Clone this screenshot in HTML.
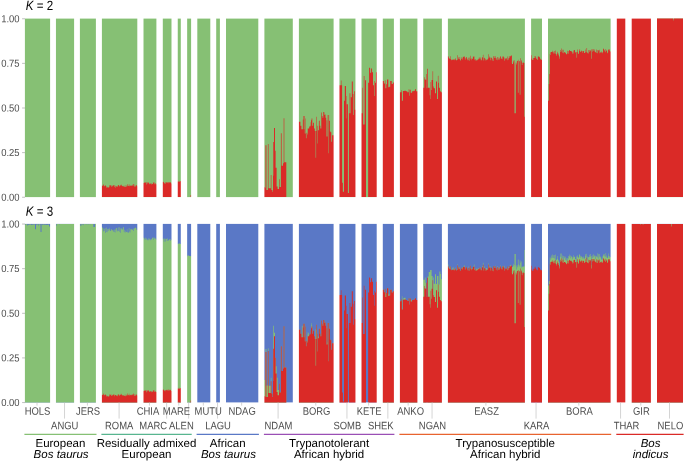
<!DOCTYPE html>
<html lang="en"><head><meta charset="utf-8"><title>Admixture K=2, K=3</title>
<style>
html,body{margin:0;padding:0;background:#fff;}
body{width:685px;height:462px;overflow:hidden;font-family:"Liberation Sans",sans-serif;}
svg{display:block;}
svg text{text-rendering:geometricPrecision;}
</style></head><body>
<svg width="685" height="462" viewBox="0 0 685 462" font-family="'Liberation Sans', sans-serif">
<rect width="685" height="462" fill="#fff"/>
<text transform="translate(25.70 9.95) scale(0.868 1) rotate(0.03)" font-size="13.35" fill="#000"><tspan font-style="italic">K</tspan> = 2</text>
<text transform="translate(25.70 215.85) scale(0.868 1) rotate(0.03)" font-size="13.35" fill="#000"><tspan font-style="italic">K</tspan> = 3</text>
<g>
<rect x="23.40" y="18.60" width="28.20" height="178.50" fill="#86c074"/>
</g>
<g>
<rect x="23.40" y="223.90" width="28.20" height="178.50" fill="#5a78c6"/>
<path d="M23.40 402.40V224.35 H25.40V224.76 H25.91V223.94 H26.41V223.98 H26.92V224.47 H27.42V225.69 H27.92V224.74 H28.43V224.73 H28.93V224.66 H29.44V224.23 H29.94V224.74 H30.44V223.93 H30.95V224.90 H31.45V224.76 H31.96V224.88 H32.46V224.15 H32.96V224.58 H33.47V224.47 H33.97V224.62 H34.48V224.29 H34.98V229.25 H35.48V229.25 H35.99V224.51 H36.49V224.65 H37.00V224.85 H37.50V224.09 H38.00V225.69 H38.51V224.26 H39.01V224.03 H39.52V224.55 H40.02V224.56 H40.52V231.93 H41.03V231.93 H41.53V224.25 H42.04V224.96 H42.54V224.47 H43.04V224.40 H43.55V224.60 H44.05V224.95 H44.56V224.22 H45.06V224.96 H45.56V224.37 H46.07V224.81 H46.57V224.93 H47.08V224.78 H47.58V224.90 H48.08V224.81 H48.59V224.24 H49.09V226.58 H49.60V226.58 H51.60V402.40 Z" fill="#86c074"/>
</g>
<g>
<rect x="54.45" y="18.60" width="21.15" height="178.50" fill="#86c074"/>
</g>
<g>
<rect x="54.45" y="223.90" width="21.15" height="178.50" fill="#5a78c6"/>
<path d="M54.45 402.40V223.90 H56.45V225.69 H56.96V223.90 H57.46V223.90 H57.97V223.90 H58.47V223.90 H58.97V224.61 H59.48V223.90 H59.98V223.90 H60.49V223.90 H60.99V223.90 H61.50V223.90 H62.00V223.90 H62.50V223.90 H63.01V223.90 H63.51V223.90 H64.02V223.90 H64.52V223.90 H65.02V223.90 H65.53V223.90 H66.03V223.90 H66.54V223.90 H67.04V223.90 H67.55V223.90 H68.05V223.90 H68.55V223.90 H69.06V223.90 H69.56V223.90 H70.07V223.90 H70.57V223.90 H71.07V223.90 H71.58V223.90 H72.08V223.90 H72.59V223.90 H73.09V223.90 H73.60V223.90 H75.60V402.40 Z" fill="#86c074"/>
</g>
<g>
<rect x="78.40" y="18.60" width="19.00" height="178.50" fill="#86c074"/>
</g>
<g>
<rect x="78.40" y="223.90" width="19.00" height="178.50" fill="#5a78c6"/>
<path d="M78.40 402.40V223.91 H80.40V225.69 H80.90V225.69 H81.40V223.99 H81.90V224.18 H82.40V224.23 H82.90V225.15 H83.40V224.21 H83.90V224.12 H84.40V223.94 H84.90V223.95 H85.40V224.21 H85.90V224.23 H86.40V224.18 H86.90V223.96 H87.40V224.25 H87.90V224.18 H88.40V224.22 H88.90V224.21 H89.40V224.07 H89.90V224.19 H90.40V224.11 H90.90V224.00 H91.40V224.00 H91.90V224.11 H92.40V223.98 H92.90V224.05 H93.40V226.93 H93.90V226.93 H94.40V226.93 H94.90V224.05 H95.40V223.92 H97.40V402.40 Z" fill="#86c074"/>
</g>
<g>
<rect x="100.40" y="18.60" width="38.40" height="178.50" fill="#86c074"/>
<path d="M100.40 197.10V185.51 H102.40V185.97 H102.90V185.36 H103.40V184.25 H103.89V186.50 H104.39V186.02 H104.89V185.09 H105.39V185.74 H105.89V186.18 H106.39V187.77 H106.89V186.86 H107.38V187.39 H107.88V187.53 H108.38V187.58 H108.88V187.19 H109.38V185.29 H109.88V185.42 H110.38V185.36 H110.87V185.28 H111.37V186.80 H111.87V186.51 H112.37V185.72 H112.87V185.45 H113.37V185.15 H113.87V185.08 H114.36V187.07 H114.86V185.77 H115.36V187.64 H115.86V186.02 H116.36V186.84 H116.86V186.10 H117.36V187.06 H117.85V184.95 H118.35V185.12 H118.85V185.91 H119.35V186.53 H119.85V185.01 H120.35V185.85 H120.85V184.60 H121.35V185.16 H121.84V186.01 H122.34V186.25 H122.84V185.79 H123.34V186.21 H123.84V186.88 H124.34V186.52 H124.84V185.24 H125.33V187.09 H125.83V187.01 H126.33V185.49 H126.83V186.28 H127.33V184.25 H127.83V185.67 H128.33V185.92 H128.82V184.21 H129.32V186.14 H129.82V185.54 H130.32V186.09 H130.82V185.04 H131.32V185.95 H131.82V185.78 H132.31V184.82 H132.81V185.91 H133.31V184.07 H133.81V184.50 H134.31V186.53 H134.81V186.66 H135.31V186.26 H135.80V184.94 H136.30V185.34 H136.80V186.31 H138.80V197.10 Z" fill="#da2a27"/>
</g>
<g>
<rect x="100.40" y="223.90" width="38.40" height="178.50" fill="#5a78c6"/>
<path d="M100.40 402.40V227.18 H102.40V227.71 H102.90V228.56 H103.40V231.62 H103.89V231.00 H104.39V228.67 H104.89V228.11 H105.39V232.90 H105.89V231.99 H106.39V227.57 H106.89V232.29 H107.38V229.03 H107.88V231.00 H108.38V229.09 H108.88V227.77 H109.38V229.47 H109.88V230.63 H110.38V231.05 H110.87V229.23 H111.37V229.19 H111.87V230.52 H112.37V230.17 H112.87V229.75 H113.37V231.44 H113.87V231.91 H114.36V229.55 H114.86V232.39 H115.36V229.38 H115.86V228.14 H116.36V227.98 H116.86V231.47 H117.36V230.49 H117.85V227.40 H118.35V230.88 H118.85V226.99 H119.35V231.79 H119.85V227.90 H120.35V232.75 H120.85V228.95 H121.35V228.11 H121.84V229.68 H122.34V229.16 H122.84V227.46 H123.34V226.96 H123.84V231.92 H124.34V229.83 H124.84V232.76 H125.33V230.71 H125.83V232.12 H126.33V232.03 H126.83V229.21 H127.33V232.49 H127.83V232.07 H128.33V232.94 H128.82V228.07 H129.32V231.52 H129.82V232.56 H130.32V229.23 H130.82V228.65 H131.32V229.18 H131.82V229.68 H132.31V229.76 H132.81V228.64 H133.31V231.12 H133.81V227.89 H134.31V228.79 H134.81V227.80 H135.31V227.60 H135.80V227.91 H136.30V229.85 H136.80V229.83 H138.80V402.40 Z" fill="#86c074"/>
<path d="M100.40 402.40V394.64 H102.40V395.05 H102.90V394.55 H103.40V393.47 H103.89V395.56 H104.39V395.12 H104.89V394.30 H105.39V394.84 H105.89V395.20 H106.39V396.55 H106.89V395.79 H107.38V396.27 H107.88V396.42 H108.38V396.48 H108.88V396.17 H109.38V394.56 H109.88V394.69 H110.38V394.66 H110.87V394.62 H111.37V395.92 H111.87V395.67 H112.37V394.99 H112.87V394.76 H113.37V394.50 H113.87V394.45 H114.36V396.15 H114.86V395.03 H115.36V394.89 H115.86V395.25 H116.36V395.95 H116.86V395.32 H117.36V396.14 H117.85V394.33 H118.35V394.48 H118.85V395.16 H119.35V395.69 H119.85V394.38 H120.35V395.10 H120.85V393.83 H121.35V394.51 H121.84V395.24 H122.34V395.44 H122.84V395.05 H123.34V395.41 H123.84V395.99 H124.34V395.68 H124.84V394.58 H125.33V396.18 H125.83V396.12 H126.33V394.82 H126.83V395.51 H127.33V393.47 H127.83V394.99 H128.33V395.21 H128.82V393.76 H129.32V395.42 H129.82V394.91 H130.32V395.37 H130.82V394.47 H131.32V395.24 H131.82V395.08 H132.31V394.26 H132.81V395.18 H133.31V393.47 H133.81V393.96 H134.31V395.69 H134.81V395.78 H135.31V395.44 H135.80V394.30 H136.30V394.63 H136.80V395.45 H138.80V402.40 Z" fill="#da2a27"/>
</g>
<g>
<rect x="142.00" y="18.60" width="15.90" height="178.50" fill="#86c074"/>
<path d="M142.00 197.10V183.05 H144.00V182.75 H144.49V182.62 H144.99V182.25 H145.48V182.76 H145.98V182.30 H146.48V184.53 H146.97V183.44 H147.47V182.25 H147.97V182.98 H148.46V182.35 H148.96V184.32 H149.45V183.43 H149.95V183.99 H150.45V183.25 H150.94V183.17 H151.44V184.57 H151.93V184.06 H152.43V183.91 H152.93V182.32 H153.42V182.69 H153.92V184.21 H154.42V182.61 H154.91V184.26 H155.41V183.06 H155.90V184.29 H157.90V197.10 Z" fill="#da2a27"/>
</g>
<g>
<rect x="142.00" y="223.90" width="15.90" height="178.50" fill="#5a78c6"/>
<path d="M142.00 402.40V237.86 H144.00V239.56 H144.49V238.14 H144.99V237.62 H145.48V239.68 H145.98V238.21 H146.48V239.60 H146.97V240.15 H147.47V239.56 H147.97V238.27 H148.46V240.20 H148.96V238.56 H149.45V239.55 H149.95V240.14 H150.45V239.30 H150.94V239.44 H151.44V239.20 H151.93V237.85 H152.43V237.72 H152.93V239.95 H153.42V237.51 H153.92V238.71 H154.42V237.60 H154.91V238.05 H155.41V238.99 H155.90V239.87 H157.90V402.40 Z" fill="#86c074"/>
<path d="M142.00 402.40V390.89 H144.00V390.64 H144.49V390.52 H144.99V390.21 H145.48V390.64 H145.98V390.25 H146.48V392.16 H146.97V391.23 H147.47V390.20 H147.97V390.84 H148.46V390.30 H148.96V391.98 H149.45V391.22 H149.95V391.70 H150.45V391.06 H150.94V391.00 H151.44V392.20 H151.93V391.76 H152.43V391.63 H152.93V390.26 H153.42V390.59 H153.92V391.88 H154.42V390.52 H154.91V391.93 H155.41V390.90 H155.90V391.95 H157.90V402.40 Z" fill="#da2a27"/>
</g>
<g>
<rect x="161.30" y="18.60" width="11.70" height="178.50" fill="#86c074"/>
<path d="M161.30 197.10V181.91 H163.31V181.84 H163.82V182.68 H164.34V183.24 H164.85V183.89 H165.36V182.23 H165.87V182.72 H166.38V181.99 H166.89V182.96 H167.41V181.97 H167.92V183.21 H168.43V181.89 H168.94V182.07 H169.45V182.86 H169.96V182.55 H170.48V182.19 H170.99V183.41 H173.00V197.10 Z" fill="#da2a27"/>
</g>
<g>
<rect x="161.30" y="223.90" width="11.70" height="178.50" fill="#5a78c6"/>
<path d="M161.30 402.40V239.21 H163.31V238.53 H163.82V241.69 H164.34V238.39 H164.85V238.82 H165.36V241.55 H165.87V238.87 H166.38V238.88 H166.89V241.08 H167.41V238.28 H167.92V240.45 H168.43V240.14 H168.94V239.42 H169.45V239.29 H169.96V239.08 H170.48V240.76 H170.99V240.02 H173.00V402.40 Z" fill="#86c074"/>
<path d="M161.30 402.40V389.63 H163.31V389.57 H163.82V390.29 H164.34V390.77 H164.85V391.33 H165.36V389.91 H165.87V390.33 H166.38V389.71 H166.89V390.53 H167.41V389.68 H167.92V390.75 H168.43V389.62 H168.94V389.77 H169.45V390.45 H169.96V390.18 H170.48V389.87 H170.99V390.92 H173.00V402.40 Z" fill="#da2a27"/>
</g>
<g>
<rect x="176.25" y="18.60" width="6.05" height="178.50" fill="#86c074"/>
<path d="M176.25 197.10V181.41 H178.26V181.78 H178.77V180.71 H179.28V181.95 H179.78V180.96 H180.29V181.32 H182.30V197.10 Z" fill="#da2a27"/>
</g>
<g>
<rect x="176.25" y="223.90" width="6.05" height="178.50" fill="#5a78c6"/>
<path d="M176.25 402.40V243.99 H178.26V243.63 H178.77V243.21 H179.28V243.54 H179.78V243.73 H180.29V243.92 H182.30V402.40 Z" fill="#86c074"/>
<path d="M176.25 402.40V388.43 H178.26V388.74 H178.77V387.85 H179.28V388.88 H179.78V388.06 H180.29V388.36 H182.30V402.40 Z" fill="#da2a27"/>
</g>
<g>
<rect x="185.65" y="18.60" width="6.95" height="178.50" fill="#86c074"/>
<path d="M185.65 197.10V197.10 H187.64V197.10 H188.14V197.10 H188.63V197.10 H189.12V197.10 H189.62V197.10 H190.11V197.10 H190.61V194.96 H192.60V197.10 Z" fill="#da2a27"/>
</g>
<g>
<rect x="185.65" y="223.90" width="6.95" height="178.50" fill="#5a78c6"/>
<path d="M185.65 402.40V256.20 H187.64V255.22 H188.14V255.13 H188.63V255.84 H189.12V255.99 H189.62V256.11 H190.11V256.27 H190.61V256.08 H192.60V402.40 Z" fill="#86c074"/>
<path d="M185.65 402.40V402.40 H187.64V402.40 H188.14V402.40 H188.63V402.40 H189.12V402.40 H189.62V402.40 H190.11V402.40 H190.61V400.61 H192.60V402.40 Z" fill="#da2a27"/>
</g>
<g>
<rect x="195.80" y="18.60" width="16.00" height="178.50" fill="#86c074"/>
</g>
<g>
<rect x="195.80" y="223.90" width="16.00" height="178.50" fill="#5a78c6"/>
</g>
<g>
<rect x="214.70" y="18.60" width="6.70" height="178.50" fill="#86c074"/>
</g>
<g>
<rect x="214.70" y="223.90" width="6.70" height="178.50" fill="#5a78c6"/>
</g>
<g>
<rect x="224.50" y="18.60" width="35.30" height="178.50" fill="#86c074"/>
</g>
<g>
<rect x="224.50" y="223.90" width="35.30" height="178.50" fill="#5a78c6"/>
</g>
<g>
<rect x="262.90" y="18.60" width="31.40" height="178.50" fill="#86c074"/>
<path d="M262.90 197.10V187.28 H265.20V145.34 H265.70V188.17 H266.00V145.34 H266.40V189.96 H267.90V144.09 H268.50V188.17 H270.80V174.97 H271.40V189.96 H272.40V191.75 H273.00V175.68 H273.30V142.12 H274.00V128.02 H275.00V150.69 H275.60V167.65 H276.60V186.39 H277.60V189.07 H279.00V179.25 H279.60V187.10 H280.90V133.20 H281.60V165.68 H283.00V163.19 H283.70V118.27 H284.30V162.29 H286.30V197.10 H294.30V197.10 Z" fill="#da2a27"/>
</g>
<g>
<rect x="262.90" y="223.90" width="31.40" height="178.50" fill="#5a78c6"/>
<path d="M262.90 402.40V380.09 H265.20V348.94 H265.70V386.33 H266.00V348.94 H266.40V385.44 H267.90V348.14 H268.50V385.80 H270.80V377.77 H271.40V393.47 H272.40V397.04 H273.00V380.98 H273.30V325.64 H274.00V332.78 H275.00V357.77 H275.60V366.34 H276.60V377.77 H277.60V389.90 H279.00V383.84 H279.60V392.40 H280.90V346.17 H281.60V370.98 H283.00V368.49 H283.70V326.18 H284.30V367.59 H286.30V402.40 H294.30V402.40 Z" fill="#86c074"/>
<path d="M262.90 402.40V396.15 H265.20V351.97 H265.70V397.04 H266.00V351.97 H266.40V397.04 H267.90V350.99 H268.50V392.94 H270.80V381.34 H271.40V393.47 H272.40V397.04 H273.00V380.98 H273.30V348.85 H274.00V336.36 H275.00V357.77 H275.60V373.48 H276.60V392.05 H277.60V395.26 H279.00V383.84 H279.60V392.40 H280.90V346.17 H281.60V370.98 H283.00V368.49 H283.70V326.18 H284.30V367.59 H286.30V402.40 H294.30V402.40 Z" fill="#da2a27"/>
</g>
<g>
<rect x="297.40" y="18.60" width="37.70" height="178.50" fill="#86c074"/>
<path d="M297.40 197.10V121.77 H300.40V125.70 H301.40V129.27 H302.85V119.45 H303.30V115.88 H303.80V129.27 H304.30V115.88 H304.80V133.38 H305.30V118.56 H305.70V133.73 H305.95V138.19 H306.50V132.84 H307.20V134.62 H307.70V128.38 H309.20V126.59 H310.00V122.13 H310.30V126.59 H310.60V125.70 H311.00V120.34 H311.60V118.56 H312.30V125.70 H313.10V122.67 H314.00V128.38 H314.80V131.06 H315.60V157.83 H316.10V131.06 H316.50V116.77 H317.00V143.55 H317.40V125.70 H317.90V130.34 H318.90V120.70 H319.70V125.70 H320.40V128.38 H321.30V112.49 H321.90V115.88 H322.50V117.67 H323.30V111.96 H324.00V114.99 H324.40V112.31 H324.75V114.45 H325.50V117.67 H326.20V136.41 H326.70V120.34 H327.20V136.41 H327.70V114.99 H328.20V153.37 H328.60V114.99 H329.10V120.70 H329.90V131.41 H330.60V132.30 H331.30V141.76 H332.05V135.34 H335.10V197.10 Z" fill="#da2a27"/>
</g>
<g>
<rect x="297.40" y="223.90" width="37.70" height="178.50" fill="#5a78c6"/>
<path d="M297.40 402.40V329.75 H300.40V333.68 H301.40V337.25 H301.90V325.64 H302.50V337.25 H302.85V327.43 H303.30V323.86 H303.80V337.25 H304.30V323.86 H304.80V341.35 H305.30V326.54 H305.70V341.71 H305.95V346.17 H306.50V340.82 H306.90V331.89 H307.20V333.68 H307.40V342.60 H307.70V336.36 H308.30V332.78 H309.00V336.36 H309.20V334.57 H310.00V330.11 H310.30V334.57 H310.60V333.68 H311.00V328.32 H311.30V324.75 H311.60V322.97 H312.00V326.54 H312.30V333.68 H313.10V330.64 H314.00V336.36 H314.80V339.03 H315.60V329.21 H316.10V330.11 H316.50V324.75 H317.00V351.53 H317.40V333.68 H317.90V338.32 H318.20V336.53 H318.90V326.89 H319.00V328.68 H319.70V333.68 H320.40V336.36 H321.30V320.47 H321.90V323.86 H322.50V325.64 H323.30V319.93 H324.00V322.97 H324.40V320.29 H324.75V322.43 H325.50V325.64 H326.20V344.39 H326.70V328.32 H327.20V342.25 H327.70V322.97 H328.20V361.34 H328.60V322.97 H329.10V328.68 H329.90V339.39 H330.60V340.28 H331.30V349.74 H332.05V343.32 H335.10V402.40 Z" fill="#86c074"/>
<path d="M297.40 402.40V329.75 H300.40V333.68 H301.40V337.25 H302.85V327.43 H303.30V323.86 H303.80V337.25 H304.30V323.86 H304.80V341.35 H305.30V326.54 H305.70V341.71 H305.95V346.17 H306.50V340.82 H307.20V342.60 H307.70V336.36 H309.20V334.57 H310.00V330.11 H310.30V334.57 H310.60V333.68 H311.00V328.32 H311.60V326.54 H312.30V333.68 H313.10V330.64 H314.00V336.36 H314.80V339.03 H315.60V365.81 H316.10V339.03 H316.50V324.75 H317.00V351.53 H317.40V333.68 H317.90V338.32 H318.90V328.68 H319.70V333.68 H320.40V336.36 H321.30V320.47 H321.90V323.86 H322.50V325.64 H323.30V319.93 H324.00V322.97 H324.40V320.29 H324.75V322.43 H325.50V325.64 H326.20V344.39 H326.70V328.32 H327.20V344.39 H327.70V322.97 H328.20V361.34 H328.60V322.97 H329.10V328.68 H329.90V339.39 H330.60V340.28 H331.30V349.74 H332.05V343.32 H335.10V402.40 Z" fill="#da2a27"/>
</g>
<g>
<rect x="337.95" y="18.60" width="19.00" height="178.50" fill="#86c074"/>
<path d="M337.95 197.10V85.36 H340.90V80.54 H341.40V85.36 H342.10V182.82 H342.85V191.75 H344.00V100.71 H344.80V85.89 H345.95V118.56 H346.30V96.07 H346.70V104.28 H347.90V192.99 H348.90V113.20 H349.65V93.21 H350.30V113.20 H350.80V97.14 H351.80V81.61 H352.80V94.11 H353.40V114.99 H354.00V91.25 H354.70V109.63 H356.95V197.10 Z" fill="#da2a27"/>
</g>
<g>
<rect x="337.95" y="223.90" width="19.00" height="178.50" fill="#5a78c6"/>
<path d="M337.95 402.40V295.03 H340.90V290.21 H341.40V295.03 H342.10V392.49 H342.85V401.42 H344.00V310.38 H344.80V295.57 H345.95V328.23 H346.30V305.74 H346.70V313.95 H347.90V402.40 H348.90V322.88 H349.65V302.89 H350.30V322.88 H350.80V306.81 H351.80V291.28 H352.80V303.78 H353.40V324.66 H354.00V300.92 H354.70V319.31 H356.95V402.40 Z" fill="#da2a27"/>
</g>
<g>
<rect x="360.00" y="18.60" width="18.20" height="178.50" fill="#86c074"/>
<path d="M360.00 197.10V113.20 H362.50V87.86 H363.00V124.45 H363.80V76.08 H364.40V124.45 H365.05V80.18 H366.00V197.10 H368.15V82.86 H369.10V67.87 H370.10V72.69 H371.10V68.58 H372.05V72.15 H373.00V85.36 H374.00V96.07 H374.50V81.07 H375.00V82.86 H375.95V72.15 H378.20V197.10 Z" fill="#da2a27"/>
</g>
<g>
<rect x="360.00" y="223.90" width="18.20" height="178.50" fill="#5a78c6"/>
<path d="M360.00 402.40V322.88 H362.50V297.53 H363.00V334.12 H363.80V285.75 H364.40V334.12 H365.05V289.86 H366.00V402.40 H368.15V292.53 H369.10V277.54 H370.10V282.36 H371.10V278.25 H372.05V281.82 H373.00V295.03 H374.00V305.74 H374.50V290.75 H375.00V292.53 H375.95V281.82 H378.20V402.40 Z" fill="#da2a27"/>
</g>
<g>
<rect x="381.30" y="18.60" width="14.10" height="178.50" fill="#86c074"/>
<path d="M381.30 197.10V81.07 H383.90V83.57 H384.90V80.18 H385.40V88.22 H386.30V84.29 H387.00V79.52 H388.30V87.32 H389.30V86.79 H390.20V81.07 H391.70V83.93 H392.90V82.50 H395.40V197.10 Z" fill="#da2a27"/>
</g>
<g>
<rect x="381.30" y="223.90" width="14.10" height="178.50" fill="#5a78c6"/>
<path d="M381.30 402.40V289.77 H383.90V292.27 H384.90V288.87 H385.40V293.34 H386.30V292.98 H387.00V288.21 H388.30V293.87 H389.30V295.48 H390.20V289.77 H391.70V292.62 H392.90V291.19 H395.40V402.40 Z" fill="#86c074"/>
<path d="M381.30 402.40V289.77 H383.90V292.27 H384.90V288.87 H385.40V296.91 H386.30V292.98 H387.00V288.21 H388.30V296.01 H389.30V295.48 H390.20V289.77 H391.70V292.62 H392.90V291.19 H395.40V402.40 Z" fill="#da2a27"/>
</g>
<g>
<rect x="398.40" y="18.60" width="20.50" height="178.50" fill="#86c074"/>
<path d="M398.40 197.10V92.32 H401.40V90.36 H401.90V100.71 H402.90V90.89 H404.30V90.71 H405.80V91.25 H407.30V92.14 H408.70V89.29 H409.20V95.71 H409.70V89.64 H410.70V92.68 H412.10V91.25 H413.60V90.71 H415.00V89.29 H416.00V91.25 H418.90V197.10 Z" fill="#da2a27"/>
</g>
<g>
<rect x="398.40" y="223.90" width="20.50" height="178.50" fill="#5a78c6"/>
<path d="M398.40 402.40V301.19 H401.40V299.23 H401.90V296.19 H402.40V309.58 H402.90V299.76 H403.50V297.98 H404.30V297.80 H405.50V299.58 H405.80V300.12 H407.30V301.01 H408.70V298.16 H409.20V304.58 H409.70V298.51 H410.70V299.76 H411.50V301.55 H412.10V300.12 H413.60V299.58 H415.00V298.16 H416.00V300.12 H418.90V402.40 Z" fill="#86c074"/>
<path d="M398.40 402.40V301.19 H401.40V299.23 H401.90V309.58 H402.90V299.76 H404.30V299.58 H405.80V300.12 H407.30V301.01 H408.70V298.16 H409.20V304.58 H409.70V298.51 H410.70V301.55 H412.10V300.12 H413.60V299.58 H415.00V298.16 H416.00V300.12 H418.90V402.40 Z" fill="#da2a27"/>
</g>
<g>
<rect x="421.70" y="18.60" width="21.70" height="178.50" fill="#86c074"/>
<path d="M421.70 197.10V87.86 H424.30V77.15 H424.80V79.29 H425.30V79.83 H426.20V73.94 H426.70V88.22 H427.20V68.81 H427.90V87.86 H429.70V95.36 H430.20V98.92 H430.60V81.97 H431.10V90.00 H431.60V80.00 H432.60V71.26 H433.10V86.43 H433.70V88.22 H435.00V93.21 H436.00V81.43 H437.00V98.92 H437.90V75.72 H438.40V82.86 H438.90V87.86 H439.90V91.25 H440.80V92.32 H443.40V197.10 Z" fill="#da2a27"/>
</g>
<g>
<rect x="421.70" y="223.90" width="21.70" height="178.50" fill="#5a78c6"/>
<path d="M421.70 402.40V279.77 H424.80V277.45 H425.50V282.81 H426.25V402.40 H427.70V276.56 H428.70V272.10 H430.15V269.95 H431.60V276.02 H432.60V402.40 H433.10V277.45 H433.75V283.70 H435.00V274.24 H436.00V284.05 H437.00V276.02 H438.40V284.59 H439.40V271.38 H440.40V273.88 H441.10V279.24 H443.40V402.40 Z" fill="#86c074"/>
<path d="M421.70 402.40V296.73 H424.30V286.02 H424.80V288.16 H425.30V288.70 H426.20V282.81 H426.70V297.08 H427.20V277.68 H427.90V296.73 H429.70V304.23 H430.20V307.79 H430.60V290.84 H431.10V298.87 H431.60V288.87 H432.60V280.13 H433.10V295.30 H433.70V297.08 H435.00V302.08 H436.00V290.30 H437.00V307.79 H437.90V284.59 H438.40V291.73 H438.90V296.73 H439.90V300.12 H440.80V301.19 H443.40V402.40 Z" fill="#da2a27"/>
</g>
<g>
<rect x="446.40" y="18.60" width="80.00" height="178.50" fill="#86c074"/>
<path d="M446.40 197.10V56.08 H448.40V57.26 H448.90V58.48 H449.40V58.52 H449.90V59.06 H450.40V56.26 H450.90V59.54 H451.40V60.19 H451.90V59.67 H452.40V59.67 H452.90V59.35 H453.40V59.63 H453.90V60.37 H454.40V59.35 H454.90V59.42 H455.40V58.22 H455.90V59.92 H456.40V60.52 H456.90V59.91 H457.40V55.19 H457.90V59.04 H458.40V57.43 H458.90V57.11 H459.40V58.91 H459.90V60.37 H460.40V60.55 H460.90V57.32 H461.40V58.98 H461.90V57.76 H462.40V59.43 H462.90V56.56 H463.40V56.94 H463.90V57.13 H464.40V56.37 H464.90V59.72 H465.40V58.26 H465.90V57.40 H466.40V57.07 H466.90V58.97 H467.40V60.14 H467.90V57.87 H468.40V60.29 H468.90V57.50 H469.40V60.74 H469.90V58.66 H470.40V55.73 H470.90V60.21 H471.40V58.53 H471.90V58.43 H472.40V59.04 H472.90V56.59 H473.40V56.73 H473.90V56.61 H474.40V59.60 H474.90V60.62 H475.40V58.99 H475.90V60.20 H476.40V60.55 H476.90V59.50 H477.40V60.13 H477.90V59.40 H478.40V58.84 H478.90V57.30 H479.40V58.57 H479.90V59.31 H480.40V57.56 H480.90V60.49 H481.40V59.73 H481.90V57.50 H482.40V57.20 H482.90V54.66 H483.40V60.38 H483.90V58.33 H484.40V57.63 H484.90V60.60 H485.40V58.65 H485.90V59.39 H486.40V60.27 H486.90V59.87 H487.40V59.33 H487.90V58.49 H488.40V54.30 H488.90V57.77 H489.40V56.57 H489.90V57.47 H490.40V60.33 H490.90V57.63 H491.40V57.69 H491.90V60.59 H492.40V58.84 H492.90V61.08 H493.40V56.21 H493.90V56.31 H494.40V57.97 H494.90V57.88 H495.40V56.16 H495.90V59.63 H496.40V58.24 H496.90V60.32 H497.40V57.00 H497.90V57.56 H498.40V59.62 H498.90V59.67 H499.40V58.16 H499.90V57.09 H500.40V56.08 H500.90V59.08 H501.40V58.19 H501.90V59.36 H502.40V56.46 H502.90V57.20 H503.40V56.13 H503.90V57.58 H504.40V60.73 H504.90V59.23 H505.40V58.21 H505.90V58.54 H506.40V58.27 H506.90V60.16 H507.40V56.47 H507.90V59.66 H508.40V58.21 H508.90V55.98 H509.40V57.87 H509.90V56.18 H510.40V56.30 H510.90V55.35 H511.40V55.75 H511.90V63.15 H512.00V64.12 H512.40V64.12 H512.90V64.12 H513.00V62.59 H513.40V60.75 H513.90V60.15 H514.40V64.21 H514.50V113.20 H514.90V113.20 H515.40V113.20 H515.75V62.20 H515.90V62.74 H516.40V64.46 H516.90V60.67 H517.40V60.95 H517.90V92.86 H518.40V92.86 H518.50V59.80 H518.90V60.92 H519.40V61.31 H519.80V94.73 H519.90V94.73 H520.40V58.29 H520.90V61.50 H521.40V60.33 H521.90V65.10 H522.40V62.66 H522.90V63.05 H523.40V62.20 H523.90V62.99 H524.40V116.77 H526.40V197.10 Z" fill="#da2a27"/>
</g>
<g>
<rect x="446.40" y="223.90" width="80.00" height="178.50" fill="#5a78c6"/>
<path d="M446.40 402.40V264.38 H448.40V267.38 H448.90V267.38 H449.40V268.47 H449.90V267.14 H450.40V266.15 H450.90V269.66 H451.40V270.31 H451.90V269.79 H452.40V267.80 H452.90V267.37 H453.40V269.75 H453.90V269.15 H454.40V269.47 H454.90V267.75 H455.40V268.33 H455.90V270.04 H456.40V270.64 H456.90V269.03 H457.40V264.55 H457.90V269.16 H458.40V267.55 H458.90V267.23 H459.40V267.22 H459.90V270.41 H460.40V270.67 H460.90V267.44 H461.40V269.10 H461.90V267.88 H462.40V267.52 H462.90V266.68 H463.40V266.91 H463.90V265.37 H464.40V266.07 H464.90V269.84 H465.40V268.38 H465.90V267.52 H466.40V267.19 H466.90V269.09 H467.40V270.26 H467.90V266.56 H468.40V270.41 H468.90V267.62 H469.40V270.86 H469.90V268.70 H470.40V265.85 H470.90V268.34 H471.40V268.65 H471.90V267.98 H472.40V269.16 H472.90V266.54 H473.40V266.85 H473.90V264.62 H474.40V268.13 H474.90V270.74 H475.40V269.11 H475.90V268.51 H476.40V269.53 H476.90V269.34 H477.40V268.86 H477.90V269.52 H478.40V267.93 H478.90V267.42 H479.40V268.69 H479.90V267.53 H480.40V267.68 H480.90V270.38 H481.40V269.20 H481.90V267.62 H482.40V266.00 H482.90V262.83 H483.40V270.19 H483.90V268.45 H484.40V266.38 H484.90V270.72 H485.40V268.76 H485.90V267.89 H486.40V268.25 H486.90V269.99 H487.40V268.69 H487.90V268.61 H488.40V263.52 H488.90V266.49 H489.40V266.69 H489.90V266.20 H490.40V270.03 H490.90V267.75 H491.40V267.81 H491.90V270.71 H492.40V268.96 H492.90V269.45 H493.40V266.33 H493.90V266.43 H494.40V268.09 H494.90V267.61 H495.40V265.77 H495.90V269.75 H496.40V268.36 H496.90V270.44 H497.40V266.23 H497.90V267.32 H498.40V269.73 H498.90V268.19 H499.40V267.41 H499.90V267.21 H500.40V265.47 H500.90V269.20 H501.40V268.31 H501.90V267.70 H502.40V266.02 H502.90V267.32 H503.40V266.25 H503.90V265.83 H504.40V270.85 H504.90V269.35 H505.40V268.33 H505.90V268.66 H506.40V268.39 H506.90V268.91 H507.40V266.59 H507.90V269.78 H508.40V267.06 H508.90V266.10 H509.40V267.99 H509.90V264.74 H510.40V265.49 H510.90V265.47 H511.40V265.76 H511.90V265.87 H512.00V267.10 H512.40V267.10 H512.90V267.10 H513.00V265.98 H513.40V263.80 H513.90V264.98 H514.40V267.23 H514.50V253.89 H514.90V253.89 H515.40V253.89 H515.75V266.51 H515.90V265.49 H516.40V269.55 H516.90V265.16 H517.40V267.37 H517.90V259.60 H518.40V259.60 H518.50V264.49 H518.90V266.55 H519.40V265.35 H519.80V260.49 H519.90V260.49 H520.40V262.75 H520.90V267.60 H521.40V261.52 H521.90V266.29 H522.40V266.91 H522.90V266.80 H523.40V266.37 H523.90V266.60 H524.40V249.96 H526.40V402.40 Z" fill="#86c074"/>
<path d="M446.40 402.40V266.20 H448.40V267.38 H448.90V268.60 H449.40V268.64 H449.90V269.18 H450.40V266.38 H450.90V269.66 H451.40V270.31 H451.90V269.79 H452.40V269.79 H452.90V269.47 H453.40V269.75 H453.90V270.49 H454.40V269.47 H454.90V269.54 H455.40V268.33 H455.90V270.04 H456.40V270.64 H456.90V270.03 H457.40V265.31 H457.90V269.16 H458.40V267.55 H458.90V267.23 H459.40V269.03 H459.90V270.49 H460.40V270.67 H460.90V267.44 H461.40V269.10 H461.90V267.88 H462.40V269.55 H462.90V266.68 H463.40V267.06 H463.90V267.25 H464.40V266.49 H464.90V269.84 H465.40V268.38 H465.90V267.52 H466.40V267.19 H466.90V269.09 H467.40V270.26 H467.90V267.99 H468.40V270.41 H468.90V267.62 H469.40V270.86 H469.90V268.78 H470.40V265.85 H470.90V270.33 H471.40V268.65 H471.90V268.55 H472.40V269.16 H472.90V266.71 H473.40V266.85 H473.90V266.73 H474.40V269.72 H474.90V270.74 H475.40V269.11 H475.90V270.32 H476.40V270.67 H476.90V269.62 H477.40V270.25 H477.90V269.52 H478.40V268.96 H478.90V267.42 H479.40V268.69 H479.90V269.43 H480.40V267.68 H480.90V270.61 H481.40V269.85 H481.90V267.62 H482.40V267.32 H482.90V264.78 H483.40V270.50 H483.90V268.45 H484.40V267.75 H484.90V270.72 H485.40V268.76 H485.90V269.51 H486.40V270.39 H486.90V269.99 H487.40V269.45 H487.90V268.61 H488.40V264.42 H488.90V267.89 H489.40V266.69 H489.90V267.59 H490.40V270.45 H490.90V267.75 H491.40V267.81 H491.90V270.71 H492.40V268.96 H492.90V271.20 H493.40V266.33 H493.90V266.43 H494.40V268.09 H494.90V268.00 H495.40V266.28 H495.90V269.75 H496.40V268.36 H496.90V270.44 H497.40V267.12 H497.90V267.68 H498.40V269.73 H498.90V269.79 H499.40V268.28 H499.90V267.21 H500.40V266.20 H500.90V269.20 H501.40V268.31 H501.90V269.48 H502.40V266.58 H502.90V267.32 H503.40V266.25 H503.90V267.70 H504.40V270.85 H504.90V269.35 H505.40V268.33 H505.90V268.66 H506.40V268.39 H506.90V270.28 H507.40V266.59 H507.90V269.78 H508.40V268.32 H508.90V266.10 H509.40V267.99 H509.90V266.30 H510.40V266.42 H510.90V265.47 H511.40V265.87 H511.90V273.27 H512.00V274.24 H512.40V274.24 H512.90V274.24 H513.00V272.71 H513.40V270.87 H513.90V270.27 H514.40V274.33 H514.50V323.32 H514.90V323.32 H515.40V323.32 H515.75V272.32 H515.90V272.86 H516.40V274.58 H516.90V270.79 H517.40V271.07 H517.90V302.98 H518.40V302.98 H518.50V269.92 H518.90V271.04 H519.40V271.43 H519.80V304.85 H519.90V304.85 H520.40V268.41 H520.90V271.62 H521.40V270.44 H521.90V275.22 H522.40V272.78 H522.90V273.17 H523.40V272.32 H523.90V273.11 H524.40V326.89 H526.40V402.40 Z" fill="#da2a27"/>
</g>
<g>
<rect x="529.60" y="18.60" width="13.90" height="178.50" fill="#86c074"/>
<path d="M529.60 197.10V55.19 H531.60V58.76 H532.20V60.01 H533.30V58.05 H534.70V56.08 H535.50V57.51 H536.20V58.76 H537.00V59.66 H537.80V56.62 H539.20V57.33 H540.00V58.76 H540.70V59.66 H543.50V197.10 Z" fill="#da2a27"/>
</g>
<g>
<rect x="529.60" y="223.90" width="13.90" height="178.50" fill="#5a78c6"/>
<path d="M529.60 402.40V265.85 H531.60V269.42 H532.20V270.67 H533.30V268.70 H534.70V266.74 H535.50V268.17 H536.20V269.42 H537.00V270.31 H537.80V267.28 H539.20V267.99 H540.00V269.42 H540.70V270.31 H543.50V402.40 Z" fill="#da2a27"/>
</g>
<g>
<rect x="546.50" y="18.60" width="65.60" height="178.50" fill="#86c074"/>
<path d="M546.50 197.10V100.71 H548.50V100.71 H548.80V83.93 H549.00V83.93 H549.30V74.11 H549.50V74.11 H549.80V53.95 H550.00V55.04 H550.50V52.24 H551.00V52.04 H551.51V51.98 H552.01V50.78 H552.51V52.18 H553.01V53.41 H553.51V51.85 H554.01V51.01 H554.51V53.55 H555.01V50.55 H555.51V53.72 H556.01V54.27 H556.51V55.71 H557.01V51.84 H557.52V53.60 H558.02V53.53 H558.52V55.29 H559.02V56.57 H559.52V58.76 H560.02V49.99 H560.52V52.03 H561.02V48.42 H561.52V51.40 H562.02V52.66 H562.52V49.85 H563.02V53.33 H563.52V49.87 H564.03V52.34 H564.53V52.15 H565.03V53.23 H565.53V52.54 H566.03V53.89 H566.53V54.56 H567.03V50.68 H567.53V53.58 H568.03V51.02 H568.53V53.64 H569.03V50.08 H569.53V50.40 H570.04V51.02 H570.54V50.95 H571.04V51.77 H571.54V51.04 H572.04V53.83 H572.54V52.16 H573.04V50.50 H573.54V53.38 H574.04V50.00 H574.54V50.13 H575.04V52.32 H575.54V52.50 H576.04V52.07 H576.55V57.87 H577.05V49.49 H577.55V52.28 H578.05V53.92 H578.55V53.58 H579.05V50.65 H579.55V49.35 H580.05V51.64 H580.55V51.65 H581.05V51.37 H581.55V50.44 H582.05V52.87 H582.56V51.07 H583.06V51.30 H583.56V50.99 H584.06V53.03 H584.56V53.07 H585.06V52.23 H585.56V49.54 H586.06V52.22 H586.56V48.05 H587.06V52.39 H587.56V53.33 H588.06V53.49 H588.56V50.01 H589.07V50.17 H589.57V52.03 H590.07V50.59 H590.57V50.62 H591.07V58.76 H591.57V49.29 H592.07V51.84 H592.57V49.13 H593.07V49.25 H593.57V50.96 H594.07V49.59 H594.57V51.41 H595.08V51.93 H595.58V52.52 H596.08V49.59 H596.58V52.90 H597.08V53.32 H597.58V49.89 H598.08V50.03 H598.58V51.37 H599.08V49.72 H599.58V53.35 H600.08V52.39 H600.58V52.23 H601.08V51.62 H601.59V52.77 H602.09V53.23 H602.59V51.97 H603.09V48.41 H603.59V48.96 H604.09V50.06 H604.59V51.29 H605.09V52.33 H605.59V49.04 H606.09V51.04 H606.59V50.09 H607.09V53.33 H607.60V52.47 H608.10V49.56 H608.60V49.75 H609.10V49.34 H609.60V50.63 H610.10V51.43 H612.10V197.10 Z" fill="#da2a27"/>
</g>
<g>
<rect x="546.50" y="223.90" width="65.60" height="178.50" fill="#5a78c6"/>
<path d="M546.50 402.40V285.48 H548.50V285.48 H548.80V281.20 H549.00V281.20 H549.30V281.02 H549.50V281.02 H549.80V257.47 H550.00V259.85 H550.50V257.44 H551.00V255.46 H551.51V258.20 H552.01V254.59 H552.51V257.81 H553.01V257.96 H553.51V255.14 H554.01V254.99 H554.51V258.40 H555.01V254.54 H555.51V261.05 H556.01V259.88 H556.51V259.47 H557.01V256.06 H557.52V259.11 H558.02V259.99 H558.52V261.24 H559.02V262.17 H559.52V265.71 H560.02V253.42 H560.52V256.70 H561.02V253.59 H561.52V258.06 H562.02V258.72 H562.52V255.52 H563.02V260.15 H563.52V255.88 H564.03V258.22 H564.53V256.44 H565.03V256.78 H565.53V259.94 H566.03V260.75 H566.53V258.34 H567.03V258.08 H567.53V259.92 H568.03V256.05 H568.53V258.80 H569.03V256.60 H569.53V254.62 H570.04V255.41 H570.54V258.37 H571.04V256.16 H571.54V256.87 H572.04V259.17 H572.54V257.13 H573.04V255.16 H573.54V257.38 H574.04V256.67 H574.54V256.76 H575.04V258.88 H575.54V259.16 H576.04V256.13 H576.55V261.63 H577.05V255.37 H577.55V256.78 H578.05V257.97 H578.55V257.33 H579.05V254.79 H579.55V254.30 H580.05V255.66 H580.55V257.70 H581.05V256.26 H581.55V256.72 H582.05V258.58 H582.56V256.88 H583.06V256.61 H583.56V258.42 H584.06V258.60 H584.56V258.38 H585.06V255.78 H585.56V253.94 H586.06V259.02 H586.56V253.81 H587.06V256.60 H587.56V260.41 H588.06V257.23 H588.56V257.25 H589.07V254.73 H589.57V257.05 H590.07V253.93 H590.57V256.48 H591.07V264.88 H591.57V255.96 H592.07V258.09 H592.57V255.21 H593.07V254.21 H593.57V257.21 H594.07V256.27 H594.57V255.13 H595.08V259.08 H595.58V255.87 H596.08V255.93 H596.58V257.06 H597.08V257.61 H597.58V253.24 H598.08V254.17 H598.58V258.77 H599.08V253.91 H599.58V256.64 H600.08V256.46 H600.58V257.45 H601.08V258.86 H601.59V260.12 H602.09V259.62 H602.59V256.32 H603.09V255.19 H603.59V254.00 H604.09V254.28 H604.59V256.30 H605.09V256.65 H605.59V253.05 H606.09V255.38 H606.59V257.51 H607.09V257.94 H607.60V257.45 H608.10V253.48 H608.60V256.08 H609.10V256.17 H609.60V257.85 H610.10V256.95 H612.10V402.40 Z" fill="#86c074"/>
<path d="M546.50 402.40V310.47 H548.50V310.47 H548.80V293.69 H549.00V293.69 H549.30V283.88 H549.50V283.88 H549.80V263.71 H550.00V264.81 H550.50V262.00 H551.00V261.80 H551.51V261.74 H552.01V260.55 H552.51V261.94 H553.01V263.17 H553.51V261.61 H554.01V260.77 H554.51V263.31 H555.01V260.31 H555.51V263.48 H556.01V264.03 H556.51V265.48 H557.01V261.60 H557.52V263.36 H558.02V263.29 H558.52V265.05 H559.02V266.34 H559.52V268.52 H560.02V259.76 H560.52V261.80 H561.02V258.18 H561.52V261.16 H562.02V262.42 H562.52V259.61 H563.02V263.09 H563.52V259.64 H564.03V262.11 H564.53V261.92 H565.03V262.99 H565.53V262.30 H566.03V263.65 H566.53V264.32 H567.03V260.44 H567.53V263.34 H568.03V260.78 H568.53V263.40 H569.03V259.85 H569.53V260.16 H570.04V260.78 H570.54V260.71 H571.04V261.53 H571.54V260.81 H572.04V263.60 H572.54V261.92 H573.04V260.27 H573.54V263.14 H574.04V259.76 H574.54V259.90 H575.04V262.08 H575.54V262.26 H576.04V261.83 H576.55V267.63 H577.05V259.25 H577.55V262.04 H578.05V263.68 H578.55V263.34 H579.05V260.41 H579.55V259.11 H580.05V261.40 H580.55V261.41 H581.05V261.13 H581.55V260.20 H582.05V262.63 H582.56V260.83 H583.06V261.06 H583.56V260.75 H584.06V262.79 H584.56V262.83 H585.06V262.00 H585.56V259.30 H586.06V261.99 H586.56V257.81 H587.06V262.15 H587.56V263.09 H588.06V263.26 H588.56V259.77 H589.07V259.94 H589.57V261.79 H590.07V260.35 H590.57V260.38 H591.07V268.52 H591.57V259.05 H592.07V261.60 H592.57V258.89 H593.07V259.01 H593.57V260.72 H594.07V259.36 H594.57V261.17 H595.08V261.69 H595.58V262.28 H596.08V259.35 H596.58V262.66 H597.08V263.08 H597.58V259.66 H598.08V259.79 H598.58V261.13 H599.08V259.48 H599.58V263.12 H600.08V262.15 H600.58V262.00 H601.08V261.38 H601.59V262.53 H602.09V262.99 H602.59V261.74 H603.09V258.17 H603.59V258.72 H604.09V259.82 H604.59V261.05 H605.09V262.09 H605.59V258.80 H606.09V260.81 H606.59V259.85 H607.09V263.10 H607.60V262.23 H608.10V259.32 H608.60V259.51 H609.10V259.10 H609.60V260.39 H610.10V261.20 H612.10V402.40 Z" fill="#da2a27"/>
</g>
<g>
<rect x="615.30" y="18.60" width="11.50" height="178.50" fill="#da2a27"/>
</g>
<g>
<rect x="615.30" y="223.90" width="11.50" height="178.50" fill="#da2a27"/>
</g>
<g>
<rect x="630.20" y="18.60" width="22.20" height="178.50" fill="#da2a27"/>
</g>
<g>
<rect x="630.20" y="223.90" width="22.20" height="178.50" fill="#5a78c6"/>
<path d="M630.20 402.40V223.90 H632.21V223.90 H632.71V223.90 H633.22V223.90 H633.72V223.90 H634.23V223.90 H634.73V223.90 H635.24V223.90 H635.74V223.90 H636.25V223.90 H636.75V223.90 H637.26V223.90 H637.76V223.90 H638.27V223.90 H638.77V223.90 H639.28V223.90 H639.78V223.90 H640.29V223.90 H640.79V223.90 H641.30V223.90 H641.81V223.90 H642.31V223.90 H642.82V223.90 H643.32V223.90 H643.83V223.90 H644.33V223.90 H644.84V223.90 H645.34V223.90 H645.85V223.90 H646.35V223.90 H646.86V223.90 H647.36V223.90 H647.87V223.90 H648.37V223.90 H648.88V223.90 H649.38V223.90 H649.89V223.90 H650.39V223.90 H652.40V402.40 Z" fill="#86c074"/>
<path d="M630.20 402.40V223.90 H632.21V223.90 H632.71V223.90 H633.22V223.90 H633.72V223.90 H634.23V223.90 H634.73V223.90 H635.24V223.90 H635.74V223.90 H636.25V223.90 H636.75V223.90 H637.26V223.90 H637.76V223.90 H638.27V223.90 H638.77V223.90 H639.28V223.90 H639.78V223.90 H640.00V224.79 H640.29V224.79 H640.50V223.90 H640.79V223.90 H641.30V223.90 H641.81V223.90 H642.31V223.90 H642.80V224.97 H642.82V224.97 H643.30V223.90 H643.32V223.90 H643.83V223.90 H644.33V223.90 H644.84V223.90 H645.34V223.90 H645.85V223.90 H646.35V223.90 H646.86V223.90 H647.36V223.90 H647.87V223.90 H648.37V223.90 H648.88V223.90 H649.38V223.90 H649.89V223.90 H650.39V223.90 H652.40V402.40 Z" fill="#da2a27"/>
</g>
<g>
<rect x="655.50" y="18.60" width="29.00" height="178.50" fill="#86c074"/>
<path d="M655.50 197.10V18.60 H657.50V18.60 H658.00V18.60 H658.50V18.60 H659.00V18.60 H659.50V18.60 H660.00V18.60 H660.50V18.60 H661.00V18.60 H661.50V18.60 H662.00V18.60 H662.50V18.60 H663.00V18.60 H663.50V18.60 H664.00V18.60 H664.50V18.60 H665.00V18.60 H665.50V18.60 H666.00V18.60 H666.50V18.60 H667.00V18.60 H667.50V18.60 H668.00V18.60 H668.50V18.60 H669.00V18.60 H669.50V18.60 H670.00V18.60 H670.50V18.60 H671.00V18.60 H671.50V18.60 H672.00V18.60 H672.50V18.60 H673.00V18.60 H673.10V20.38 H673.50V20.38 H673.60V18.60 H674.00V18.60 H674.50V18.60 H675.00V18.60 H675.50V18.60 H676.00V18.60 H676.50V18.60 H677.00V18.60 H677.50V18.60 H678.00V18.60 H678.50V18.60 H679.00V18.60 H679.50V18.60 H680.00V18.60 H680.50V18.60 H681.00V18.60 H681.50V18.60 H682.00V18.60 H682.50V18.60 H684.50V197.10 Z" fill="#da2a27"/>
</g>
<g>
<rect x="655.50" y="223.90" width="29.00" height="178.50" fill="#5a78c6"/>
<path d="M655.50 402.40V223.90 H657.50V223.90 H658.00V223.90 H658.50V223.90 H659.00V223.90 H659.50V223.90 H660.00V223.90 H660.50V223.90 H661.00V223.90 H661.50V223.90 H662.00V223.90 H662.50V223.90 H663.00V223.90 H663.50V223.90 H664.00V223.90 H664.50V223.90 H665.00V223.90 H665.50V223.90 H666.00V223.90 H666.50V223.90 H667.00V223.90 H667.50V223.90 H668.00V223.90 H668.50V223.90 H669.00V223.90 H669.50V223.90 H670.00V223.90 H670.50V223.90 H671.00V223.90 H671.50V223.90 H672.00V223.90 H672.50V223.90 H673.00V223.90 H673.50V223.90 H674.00V223.90 H674.50V223.90 H675.00V223.90 H675.50V223.90 H676.00V223.90 H676.50V223.90 H677.00V223.90 H677.50V223.90 H678.00V223.90 H678.50V223.90 H679.00V223.90 H679.50V223.90 H680.00V223.90 H680.50V223.90 H681.00V223.90 H681.50V223.90 H682.00V223.90 H682.50V223.90 H684.50V402.40 Z" fill="#86c074"/>
<path d="M655.50 402.40V223.90 H657.50V223.90 H658.00V223.90 H658.50V223.90 H659.00V223.90 H659.50V223.90 H660.00V223.90 H660.50V223.90 H661.00V223.90 H661.50V223.90 H662.00V223.90 H662.50V223.90 H663.00V223.90 H663.50V223.90 H664.00V223.90 H664.50V223.90 H665.00V223.90 H665.50V223.90 H666.00V223.90 H666.50V223.90 H667.00V223.90 H667.50V223.90 H668.00V223.90 H668.50V223.90 H669.00V223.90 H669.50V223.90 H670.00V223.90 H670.50V223.90 H671.00V223.90 H671.30V226.58 H671.50V226.58 H671.90V223.90 H672.00V223.90 H672.50V223.90 H673.00V223.90 H673.50V223.90 H674.00V223.90 H674.50V223.90 H675.00V223.90 H675.50V223.90 H676.00V223.90 H676.50V223.90 H677.00V223.90 H677.50V223.90 H678.00V223.90 H678.50V223.90 H679.00V223.90 H679.50V223.90 H680.00V223.90 H680.50V223.90 H681.00V223.90 H681.50V223.90 H682.00V223.90 H682.50V223.90 H684.50V402.40 Z" fill="#da2a27"/>
</g>
<rect x="21.90" y="17.60" width="3.00" height="180.50" fill="#fff"/>
<rect x="50.10" y="17.60" width="5.85" height="180.50" fill="#fff"/>
<rect x="74.10" y="17.60" width="5.80" height="180.50" fill="#fff"/>
<rect x="95.90" y="17.60" width="6.00" height="180.50" fill="#fff"/>
<rect x="137.30" y="17.60" width="6.20" height="180.50" fill="#fff"/>
<rect x="156.40" y="17.60" width="6.40" height="180.50" fill="#fff"/>
<rect x="171.50" y="17.60" width="6.25" height="180.50" fill="#fff"/>
<rect x="180.80" y="17.60" width="6.35" height="180.50" fill="#fff"/>
<rect x="191.10" y="17.60" width="6.20" height="180.50" fill="#fff"/>
<rect x="210.30" y="17.60" width="5.90" height="180.50" fill="#fff"/>
<rect x="219.90" y="17.60" width="6.10" height="180.50" fill="#fff"/>
<rect x="258.30" y="17.60" width="6.10" height="180.50" fill="#fff"/>
<rect x="292.80" y="17.60" width="6.10" height="180.50" fill="#fff"/>
<rect x="333.60" y="17.60" width="5.85" height="180.50" fill="#fff"/>
<rect x="355.45" y="17.60" width="6.05" height="180.50" fill="#fff"/>
<rect x="376.70" y="17.60" width="6.10" height="180.50" fill="#fff"/>
<rect x="393.90" y="17.60" width="6.00" height="180.50" fill="#fff"/>
<rect x="417.40" y="17.60" width="5.80" height="180.50" fill="#fff"/>
<rect x="441.90" y="17.60" width="6.00" height="180.50" fill="#fff"/>
<rect x="524.90" y="17.60" width="6.20" height="180.50" fill="#fff"/>
<rect x="542.00" y="17.60" width="6.00" height="180.50" fill="#fff"/>
<rect x="610.60" y="17.60" width="6.20" height="180.50" fill="#fff"/>
<rect x="625.30" y="17.60" width="6.40" height="180.50" fill="#fff"/>
<rect x="650.90" y="17.60" width="6.10" height="180.50" fill="#fff"/>
<rect x="683.00" y="17.60" width="3.00" height="180.50" fill="#fff"/>
<rect x="21.90" y="222.90" width="3.00" height="180.50" fill="#fff"/>
<rect x="50.10" y="222.90" width="5.85" height="180.50" fill="#fff"/>
<rect x="74.10" y="222.90" width="5.80" height="180.50" fill="#fff"/>
<rect x="95.90" y="222.90" width="6.00" height="180.50" fill="#fff"/>
<rect x="137.30" y="222.90" width="6.20" height="180.50" fill="#fff"/>
<rect x="156.40" y="222.90" width="6.40" height="180.50" fill="#fff"/>
<rect x="171.50" y="222.90" width="6.25" height="180.50" fill="#fff"/>
<rect x="180.80" y="222.90" width="6.35" height="180.50" fill="#fff"/>
<rect x="191.10" y="222.90" width="6.20" height="180.50" fill="#fff"/>
<rect x="210.30" y="222.90" width="5.90" height="180.50" fill="#fff"/>
<rect x="219.90" y="222.90" width="6.10" height="180.50" fill="#fff"/>
<rect x="258.30" y="222.90" width="6.10" height="180.50" fill="#fff"/>
<rect x="292.80" y="222.90" width="6.10" height="180.50" fill="#fff"/>
<rect x="333.60" y="222.90" width="5.85" height="180.50" fill="#fff"/>
<rect x="355.45" y="222.90" width="6.05" height="180.50" fill="#fff"/>
<rect x="376.70" y="222.90" width="6.10" height="180.50" fill="#fff"/>
<rect x="393.90" y="222.90" width="6.00" height="180.50" fill="#fff"/>
<rect x="417.40" y="222.90" width="5.80" height="180.50" fill="#fff"/>
<rect x="441.90" y="222.90" width="6.00" height="180.50" fill="#fff"/>
<rect x="524.90" y="222.90" width="6.20" height="180.50" fill="#fff"/>
<rect x="542.00" y="222.90" width="6.00" height="180.50" fill="#fff"/>
<rect x="610.60" y="222.90" width="6.20" height="180.50" fill="#fff"/>
<rect x="625.30" y="222.90" width="6.40" height="180.50" fill="#fff"/>
<rect x="650.90" y="222.90" width="6.10" height="180.50" fill="#fff"/>
<rect x="683.00" y="222.90" width="3.00" height="180.50" fill="#fff"/>
<line x1="22.1" x2="25" y1="197.25" y2="197.25" stroke="#a6a6a6" stroke-width="0.7"/>
<text transform="translate(19.60 200.70) scale(0.93 1) rotate(0.03)" font-size="10.2" fill="#4d4d4d" text-anchor="end">0.00</text>
<line x1="22.1" x2="25" y1="152.62" y2="152.62" stroke="#a6a6a6" stroke-width="0.7"/>
<text transform="translate(19.60 156.07) scale(0.93 1) rotate(0.03)" font-size="10.2" fill="#4d4d4d" text-anchor="end">0.25</text>
<line x1="22.1" x2="25" y1="108.00" y2="108.00" stroke="#a6a6a6" stroke-width="0.7"/>
<text transform="translate(19.60 111.45) scale(0.93 1) rotate(0.03)" font-size="10.2" fill="#4d4d4d" text-anchor="end">0.50</text>
<line x1="22.1" x2="25" y1="63.37" y2="63.37" stroke="#a6a6a6" stroke-width="0.7"/>
<text transform="translate(19.60 66.82) scale(0.93 1) rotate(0.03)" font-size="10.2" fill="#4d4d4d" text-anchor="end">0.75</text>
<line x1="22.1" x2="25" y1="18.75" y2="18.75" stroke="#a6a6a6" stroke-width="0.7"/>
<text transform="translate(19.60 22.20) scale(0.93 1) rotate(0.03)" font-size="10.2" fill="#4d4d4d" text-anchor="end">1.00</text>
<line x1="22.1" x2="25" y1="402.55" y2="402.55" stroke="#a6a6a6" stroke-width="0.7"/>
<text transform="translate(19.60 406.00) scale(0.93 1) rotate(0.03)" font-size="10.2" fill="#4d4d4d" text-anchor="end">0.00</text>
<line x1="22.1" x2="25" y1="357.92" y2="357.92" stroke="#a6a6a6" stroke-width="0.7"/>
<text transform="translate(19.60 361.38) scale(0.93 1) rotate(0.03)" font-size="10.2" fill="#4d4d4d" text-anchor="end">0.25</text>
<line x1="22.1" x2="25" y1="313.30" y2="313.30" stroke="#a6a6a6" stroke-width="0.7"/>
<text transform="translate(19.60 316.75) scale(0.93 1) rotate(0.03)" font-size="10.2" fill="#4d4d4d" text-anchor="end">0.50</text>
<line x1="22.1" x2="25" y1="268.67" y2="268.67" stroke="#a6a6a6" stroke-width="0.7"/>
<text transform="translate(19.60 272.12) scale(0.93 1) rotate(0.03)" font-size="10.2" fill="#4d4d4d" text-anchor="end">0.75</text>
<line x1="22.1" x2="25" y1="224.05" y2="224.05" stroke="#a6a6a6" stroke-width="0.7"/>
<text transform="translate(19.60 227.50) scale(0.93 1) rotate(0.03)" font-size="10.2" fill="#4d4d4d" text-anchor="end">1.00</text>
<line x1="37.00" x2="37.00" y1="402.40" y2="405.60" stroke="#bcbcbc" stroke-width="0.65"/>
<line x1="64.53" x2="64.53" y1="402.40" y2="418.60" stroke="#bcbcbc" stroke-width="0.65"/>
<line x1="87.40" x2="87.40" y1="402.40" y2="405.60" stroke="#bcbcbc" stroke-width="0.65"/>
<line x1="119.10" x2="119.10" y1="402.40" y2="418.60" stroke="#bcbcbc" stroke-width="0.65"/>
<line x1="149.45" x2="149.45" y1="402.40" y2="405.60" stroke="#bcbcbc" stroke-width="0.65"/>
<line x1="178.78" x2="178.78" y1="402.40" y2="405.60" stroke="#bcbcbc" stroke-width="0.65"/>
<line x1="166.65" x2="166.65" y1="402.40" y2="418.60" stroke="#bcbcbc" stroke-width="0.65"/>
<line x1="188.62" x2="188.62" y1="402.40" y2="418.60" stroke="#bcbcbc" stroke-width="0.65"/>
<line x1="203.30" x2="203.30" y1="402.40" y2="405.60" stroke="#bcbcbc" stroke-width="0.65"/>
<line x1="217.55" x2="217.55" y1="402.40" y2="418.60" stroke="#bcbcbc" stroke-width="0.65"/>
<line x1="241.65" x2="241.65" y1="402.40" y2="405.60" stroke="#bcbcbc" stroke-width="0.65"/>
<line x1="278.10" x2="278.10" y1="402.40" y2="418.60" stroke="#bcbcbc" stroke-width="0.65"/>
<line x1="315.75" x2="315.75" y1="402.40" y2="405.60" stroke="#bcbcbc" stroke-width="0.65"/>
<line x1="346.95" x2="346.95" y1="402.40" y2="418.60" stroke="#bcbcbc" stroke-width="0.65"/>
<line x1="368.60" x2="368.60" y1="402.40" y2="405.60" stroke="#bcbcbc" stroke-width="0.65"/>
<line x1="387.85" x2="387.85" y1="402.40" y2="418.60" stroke="#bcbcbc" stroke-width="0.65"/>
<line x1="408.15" x2="408.15" y1="402.40" y2="405.60" stroke="#bcbcbc" stroke-width="0.65"/>
<line x1="432.05" x2="432.05" y1="402.40" y2="418.60" stroke="#bcbcbc" stroke-width="0.65"/>
<line x1="485.90" x2="485.90" y1="402.40" y2="405.60" stroke="#bcbcbc" stroke-width="0.65"/>
<line x1="536.05" x2="536.05" y1="402.40" y2="418.60" stroke="#bcbcbc" stroke-width="0.65"/>
<line x1="578.80" x2="578.80" y1="402.40" y2="405.60" stroke="#bcbcbc" stroke-width="0.65"/>
<line x1="620.55" x2="620.55" y1="402.40" y2="418.60" stroke="#bcbcbc" stroke-width="0.65"/>
<line x1="640.80" x2="640.80" y1="402.40" y2="405.60" stroke="#bcbcbc" stroke-width="0.65"/>
<line x1="669.50" x2="669.50" y1="402.40" y2="418.60" stroke="#bcbcbc" stroke-width="0.65"/>
<text transform="translate(37.50 414.70) scale(0.875 1) rotate(0.03)" font-size="10.8" fill="#4d4d4d" text-anchor="middle">HOLS</text>
<text transform="translate(64.75 429.30) scale(0.875 1) rotate(0.03)" font-size="10.8" fill="#4d4d4d" text-anchor="middle">ANGU</text>
<text transform="translate(88.00 414.70) scale(0.875 1) rotate(0.03)" font-size="10.8" fill="#4d4d4d" text-anchor="middle">JERS</text>
<text transform="translate(119.20 429.30) scale(0.875 1) rotate(0.03)" font-size="10.8" fill="#4d4d4d" text-anchor="middle">ROMA</text>
<text transform="translate(147.95 414.70) scale(0.875 1) rotate(0.03)" font-size="10.8" fill="#4d4d4d" text-anchor="middle">CHIA</text>
<text transform="translate(176.45 414.70) scale(0.875 1) rotate(0.03)" font-size="10.8" fill="#4d4d4d" text-anchor="middle">MARE</text>
<text transform="translate(153.20 429.30) scale(0.875 1) rotate(0.03)" font-size="10.8" fill="#4d4d4d" text-anchor="middle">MARC</text>
<text transform="translate(181.40 429.30) scale(0.875 1) rotate(0.03)" font-size="10.8" fill="#4d4d4d" text-anchor="middle">ALEN</text>
<text transform="translate(208.20 414.70) scale(0.875 1) rotate(0.03)" font-size="10.8" fill="#4d4d4d" text-anchor="middle">MUTU</text>
<text transform="translate(218.05 429.30) scale(0.875 1) rotate(0.03)" font-size="10.8" fill="#4d4d4d" text-anchor="middle">LAGU</text>
<text transform="translate(242.10 414.70) scale(0.875 1) rotate(0.03)" font-size="10.8" fill="#4d4d4d" text-anchor="middle">NDAG</text>
<text transform="translate(278.45 429.30) scale(0.875 1) rotate(0.03)" font-size="10.8" fill="#4d4d4d" text-anchor="middle">NDAM</text>
<text transform="translate(316.55 414.70) scale(0.875 1) rotate(0.03)" font-size="10.8" fill="#4d4d4d" text-anchor="middle">BORG</text>
<text transform="translate(347.35 429.30) scale(0.875 1) rotate(0.03)" font-size="10.8" fill="#4d4d4d" text-anchor="middle">SOMB</text>
<text transform="translate(369.15 414.70) scale(0.875 1) rotate(0.03)" font-size="10.8" fill="#4d4d4d" text-anchor="middle">KETE</text>
<text transform="translate(380.80 429.30) scale(0.875 1) rotate(0.03)" font-size="10.8" fill="#4d4d4d" text-anchor="middle">SHEK</text>
<text transform="translate(410.60 414.70) scale(0.875 1) rotate(0.03)" font-size="10.8" fill="#4d4d4d" text-anchor="middle">ANKO</text>
<text transform="translate(432.45 429.30) scale(0.875 1) rotate(0.03)" font-size="10.8" fill="#4d4d4d" text-anchor="middle">NGAN</text>
<text transform="translate(486.60 414.70) scale(0.875 1) rotate(0.03)" font-size="10.8" fill="#4d4d4d" text-anchor="middle">EASZ</text>
<text transform="translate(536.55 429.30) scale(0.875 1) rotate(0.03)" font-size="10.8" fill="#4d4d4d" text-anchor="middle">KARA</text>
<text transform="translate(579.45 414.70) scale(0.875 1) rotate(0.03)" font-size="10.8" fill="#4d4d4d" text-anchor="middle">BORA</text>
<text transform="translate(626.55 429.30) scale(0.875 1) rotate(0.03)" font-size="10.8" fill="#4d4d4d" text-anchor="middle">THAR</text>
<text transform="translate(641.30 414.70) scale(0.875 1) rotate(0.03)" font-size="10.8" fill="#4d4d4d" text-anchor="middle">GIR</text>
<text transform="translate(670.40 429.30) scale(0.875 1) rotate(0.03)" font-size="10.8" fill="#4d4d4d" text-anchor="middle">NELO</text>
<line x1="24.40" x2="96.50" y1="434.4" y2="434.4" stroke="#86c074" stroke-width="1.15"/>
<text transform="translate(60.40 447.00) scale(1 1) rotate(0.03)" font-size="11.5" fill="#000" text-anchor="middle">European</text>
<text transform="translate(61.10 458.00) scale(1 1) rotate(0.03)" font-size="11.5" fill="#000" text-anchor="middle"><tspan font-style="italic">Bos taurus</tspan></text>
<line x1="101.40" x2="191.70" y1="434.4" y2="434.4" stroke="#58b58f" stroke-width="1.15"/>
<text transform="translate(146.50 447.00) scale(1 1) rotate(0.03)" font-size="11.5" fill="#000" text-anchor="middle">Residually admixed</text>
<text transform="translate(146.50 458.00) scale(1 1) rotate(0.03)" font-size="11.5" fill="#000" text-anchor="middle">European</text>
<line x1="196.60" x2="258.90" y1="434.4" y2="434.4" stroke="#5a78c6" stroke-width="1.15"/>
<text transform="translate(227.70 447.00) scale(1 1) rotate(0.03)" font-size="11.5" fill="#000" text-anchor="middle">African</text>
<text transform="translate(228.40 458.00) scale(1 1) rotate(0.03)" font-size="11.5" fill="#000" text-anchor="middle"><tspan font-style="italic">Bos taurus</tspan></text>
<line x1="263.90" x2="394.40" y1="434.4" y2="434.4" stroke="#9a4fb5" stroke-width="1.15"/>
<text transform="translate(329.10 447.00) scale(1 1) rotate(0.03)" font-size="11.5" fill="#000" text-anchor="middle">Trypanotolerant</text>
<text transform="translate(329.10 458.00) scale(1 1) rotate(0.03)" font-size="11.5" fill="#000" text-anchor="middle">African hybrid</text>
<line x1="399.40" x2="611.20" y1="434.4" y2="434.4" stroke="#e8632f" stroke-width="1.15"/>
<text transform="translate(505.25 447.00) scale(1 1) rotate(0.03)" font-size="11.5" fill="#000" text-anchor="middle">Trypanosusceptible</text>
<text transform="translate(505.25 458.00) scale(1 1) rotate(0.03)" font-size="11.5" fill="#000" text-anchor="middle">African hybrid</text>
<line x1="616.30" x2="683.60" y1="434.4" y2="434.4" stroke="#da2a27" stroke-width="1.15"/>
<text transform="translate(650.60 447.00) scale(1 1) rotate(0.03)" font-size="11.5" fill="#000" text-anchor="middle"><tspan font-style="italic">Bos</tspan></text>
<text transform="translate(650.60 458.00) scale(1 1) rotate(0.03)" font-size="11.5" fill="#000" text-anchor="middle"><tspan font-style="italic">indicus</tspan></text>
</svg>
</body></html>
